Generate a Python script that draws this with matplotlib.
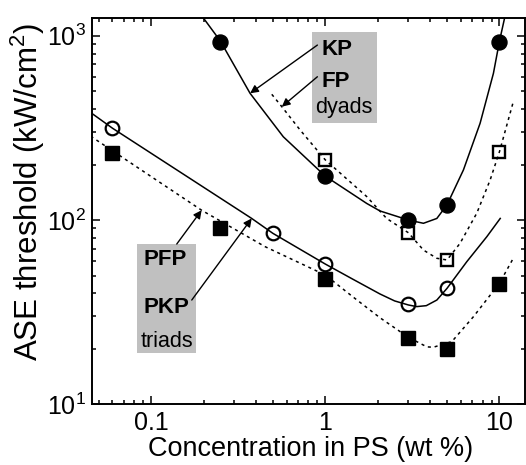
import numpy as np
import matplotlib.pyplot as plt
from matplotlib.patches import Rectangle

plt.rcParams['font.family'] = ['Liberation Sans', 'DejaVu Sans']
plt.rcParams['mathtext.fontset'] = 'custom'
plt.rcParams['mathtext.rm'] = 'Liberation Sans'
plt.rcParams['mathtext.it'] = 'Liberation Sans:italic'
plt.rcParams['mathtext.bf'] = 'Liberation Sans:bold'

# ---- measured ASE thresholds (kW/cm^2) vs concentration in PS (wt %) ----
kp_x = [0.25, 1, 3, 5, 10]
kp_y = [930, 173, 100, 121, 930]
fp_x = [1, 3, 5, 10]
fp_y = [212, 85, 61, 235]
pkp_x = [0.06, 0.5, 1, 3, 5]
pkp_y = [315, 85, 58, 35, 43]
pfp_x = [0.06, 0.25, 1, 3, 5, 10]
pfp_y = [232, 90, 48, 23, 20, 45]

# ---- guide-to-the-eye curves ----
kp_fit_x = [0.19, 0.25, 0.37, 0.574, 1, 1.73, 2.06, 3, 3.66, 4.37, 5, 6.21, 7.74, 9.23, 10, 10.9]
kp_fit_y = [1330, 935, 487, 283, 173, 123, 112, 100, 96, 102, 121, 187, 335, 625, 935, 1350]
fp_fit_x = [0.493, 0.563, 0.717, 1, 1.73, 2.25, 3, 3.66, 4.37, 5, 5.94, 7.41, 8.84, 10, 12.0]
fp_fit_y = [481, 412, 308, 212, 134, 102, 85.3, 68.7, 62.0, 60.7, 74.8, 109, 165, 235, 438]
pkp_fit_x = [0.045, 0.06, 0.378, 0.5, 1, 1.43, 2.06, 2.5, 3, 3.35, 3.8, 4.37, 5, 6.49, 8.46, 10.1]
pkp_fit_y = [383, 315, 102, 84.7, 57.7, 47.9, 39.7, 36.4, 34.6, 33.9, 34.3, 36.8, 42.6, 59.4, 81.2, 102]
pfp_fit_x = [0.045, 0.195, 0.451, 1, 1.43, 2.06, 3, 3.83, 4.17, 5.33, 7.09, 10, 12.0]
pfp_fit_y = [285, 113, 71.7, 50.3, 38.5, 29.5, 23.1, 20.5, 20.4, 21.9, 29.9, 45.4, 62]

fig = plt.figure(figsize=(5.26, 4.65), dpi=100)
ax = fig.add_axes([0.1743, 0.1305, 0.8247, 0.8301])
ax.set_xscale('log')
ax.set_yscale('log')
ax.set_xlim(0.0456, 14.1)
ax.set_ylim(10, 1243)

dots = (0, (2, 2.5))
ax.plot(kp_fit_x, kp_fit_y, color='k', lw=1.1)
ax.plot(fp_fit_x, fp_fit_y, color='k', lw=1.1, ls=dots)
ax.plot(pkp_fit_x, pkp_fit_y, color='k', lw=1.1)
ax.plot(pfp_fit_x, pfp_fit_y, color='k', lw=1.1, ls=dots)

ax.plot(kp_x, kp_y, 'o', color='k', ms=10.8, ls='none', zorder=3)
ax.plot(fp_x, fp_y, 's', mec='k', mfc='none', mew=1.7, ms=8.8, ls='none', zorder=3)
ax.plot(pkp_x, pkp_y, 'o', mec='k', mfc='none', mew=1.6, ms=9.8, ls='none', zorder=3)
ax.plot(pfp_x, pfp_y, 's', color='k', ms=9.4, ls='none', zorder=3)

# label boxes
ax.add_patch(Rectangle((0.5085, 0.7295), 0.1485, 0.2358, transform=ax.transAxes,
                       facecolor='#c0c0c0', edgecolor='none', zorder=1))
ax.add_patch(Rectangle((0.1037, 0.1337), 0.1367, 0.2816, transform=ax.transAxes,
                       facecolor='#c0c0c0', edgecolor='none', zorder=1))

ax.text(0.530, 0.905, 'KP', transform=ax.transAxes, fontsize=16, fontweight='bold', va='baseline')
ax.text(0.530, 0.823, 'FP', transform=ax.transAxes, fontsize=16, fontweight='bold', va='baseline')
ax.text(0.5812, 0.754, 'dyads', transform=ax.transAxes, fontsize=15.5, ha='center', va='baseline')
ax.text(0.119, 0.3609, 'PFP', transform=ax.transAxes, fontsize=16, fontweight='bold', va='baseline')
ax.text(0.119, 0.2358, 'PKP', transform=ax.transAxes, fontsize=16, fontweight='bold', va='baseline')
ax.text(0.1739, 0.1492, 'triads', transform=ax.transAxes, fontsize=15.5, ha='center', va='baseline')

arrow = dict(arrowstyle='-|>', color='k', lw=1.0, mutation_scale=12, shrinkA=0, shrinkB=0)
ax.annotate('', xy=(0.370, 487), xytext=(0.901, 890), arrowprops=arrow)
ax.annotate('', xy=(0.563, 412), xytext=(0.901, 599), arrowprops=arrow)
ax.annotate('', xy=(0.195, 113), xytext=(0.1404, 74.1), arrowprops=arrow)
ax.annotate('', xy=(0.378, 102), xytext=(0.1712, 36.8), arrowprops=arrow)

ax.set_xticks([0.1, 1, 10])
ax.set_xticklabels(['0.1', '1', '10'])
ax.tick_params(which='both', direction='in', top=True, right=True, width=1.1)
ax.tick_params(which='major', length=6, labelsize=18)
ax.tick_params(which='minor', length=3.2)
ax.tick_params(axis='x', which='major', pad=5)
ax.tick_params(axis='y', which='major', pad=4)
for sp in ax.spines.values():
    sp.set_linewidth(1.4)

ax.set_xlabel('Concentration in PS (wt %)', fontsize=19.5)
ax.set_ylabel('ASE threshold (kW/cm$^2$)', fontsize=22.5)
ax.xaxis.set_label_coords(0.504, -0.083)
ax.yaxis.set_label_coords(-0.103, 0.551)

fig.savefig('out.png', dpi=100)
